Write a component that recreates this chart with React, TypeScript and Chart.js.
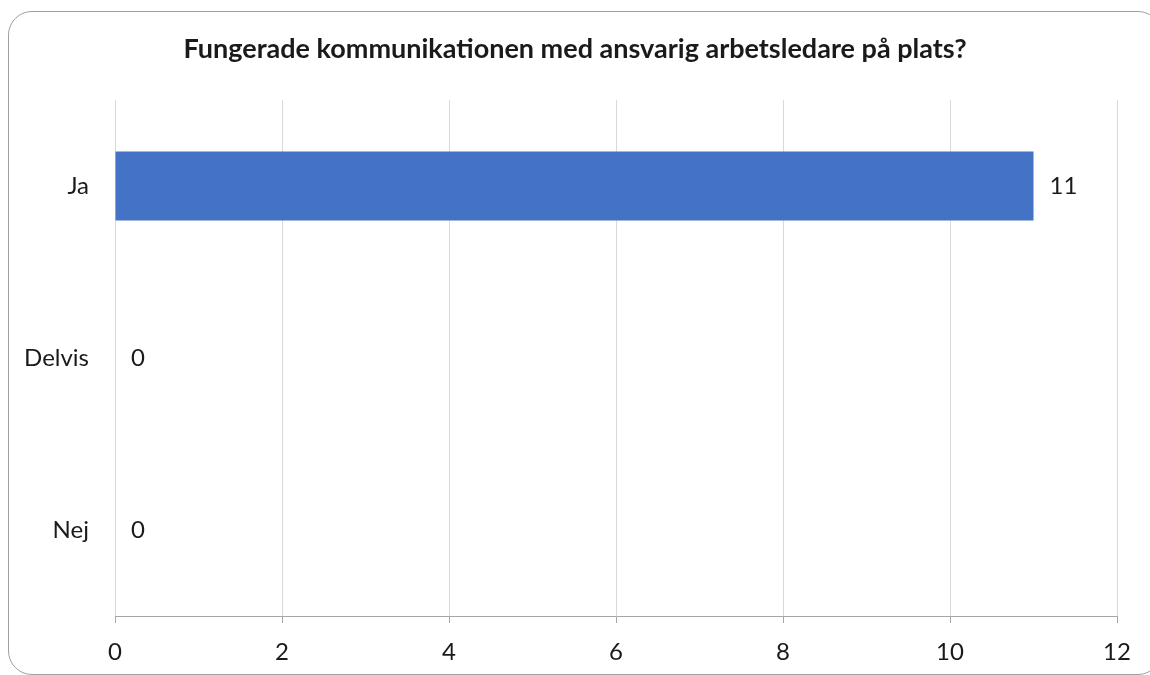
import React, { useEffect, useRef } from "react";
import { Chart, registerables } from "chart.js";

Chart.register(...registerables);

const titleText = "Fungerade kommunikationen med ansvarig arbetsledare på plats?";
const categories = ["Ja", "Delvis", "Nej"];
const values = [11, 0, 0];
const xMin = 0;
const xMax = 12;
const xStep = 2;

const FONT = "Lato, 'Open Sans', sans-serif";
const TEXT = "#1a1a1a";

const valueLabels = {
  id: "valueLabels",
  afterDatasetsDraw(chart: any) {
    const ctx = chart.ctx;
    const meta = chart.getDatasetMeta(0);
    ctx.save();
    ctx.font = `24px ${FONT}`;
    ctx.fillStyle = TEXT;
    ctx.textAlign = "left";
    ctx.textBaseline = "middle";
    meta.data.forEach((el: any, i: number) => {
      ctx.fillText(String(values[i]), el.x + 16, el.y);
    });
    ctx.restore();
  },
};

const centeredTitle = {
  id: "centeredTitle",
  afterDraw(chart: any) {
    const ctx = chart.ctx;
    ctx.save();
    ctx.font = `bold 27px ${FONT}`;
    ctx.fillStyle = TEXT;
    ctx.textAlign = "center";
    ctx.textBaseline = "alphabetic";
    ctx.fillText(titleText, chart.width / 2, 58);
    ctx.restore();
  },
};

export default function App() {
  const ref = useRef<HTMLCanvasElement>(null);
  useEffect(() => {
    if (!ref.current) return;
    const chart = new Chart(ref.current, {
      type: "bar",
      data: {
        labels: categories,
        datasets: [
          {
            data: values,
            backgroundColor: "#4472C4",
            borderWidth: 0,
            barPercentage: 0.4,
            categoryPercentage: 1,
          },
        ],
      },
      options: {
        indexAxis: "y",
        animation: false,
        responsive: false,
        maintainAspectRatio: false,
        layout: { padding: { top: 100, right: 33, bottom: 0, left: 0 } },
        plugins: {
          legend: { display: false },
          tooltip: { enabled: false },
          title: { display: false },
        },
        scales: {
          x: {
            min: xMin,
            max: xMax,
            ticks: {
              stepSize: xStep,
              color: TEXT,
              font: { family: FONT, size: 24 },
              padding: 15,
            },
            grid: {
              color: "#d9d9d9",
              tickColor: "#a6a6a6",
              tickLength: 7,
              drawTicks: true,
            },
            border: { display: true, color: "#a6a6a6", width: 1 },
            afterFit(scale: any) {
              scale.height = 59;
            },
          },
          y: {
            ticks: {
              color: TEXT,
              font: { family: FONT, size: 24 },
              padding: 26,
            },
            grid: { display: false, drawTicks: false },
            border: { display: false },
            afterFit(scale: any) {
              scale.width = 115;
            },
          },
        },
      },
      plugins: [valueLabels, centeredTitle],
    });
    return () => chart.destroy();
  }, []);

  return (
    <div style={{ position: "fixed", left: 0, top: 0, width: 1150, height: 675, background: "#fff", overflow: "hidden" }}>
      <div
        style={{
          position: "absolute",
          left: 8,
          top: 11,
          width: 1154,
          height: 664,
          border: "1.5px solid #a0a0a0",
          borderRadius: 24,
          boxSizing: "border-box",
        }}
      />
      <canvas ref={ref} width={1150} height={675} style={{ position: "absolute", left: 0, top: 0 }} />
    </div>
  );
}
